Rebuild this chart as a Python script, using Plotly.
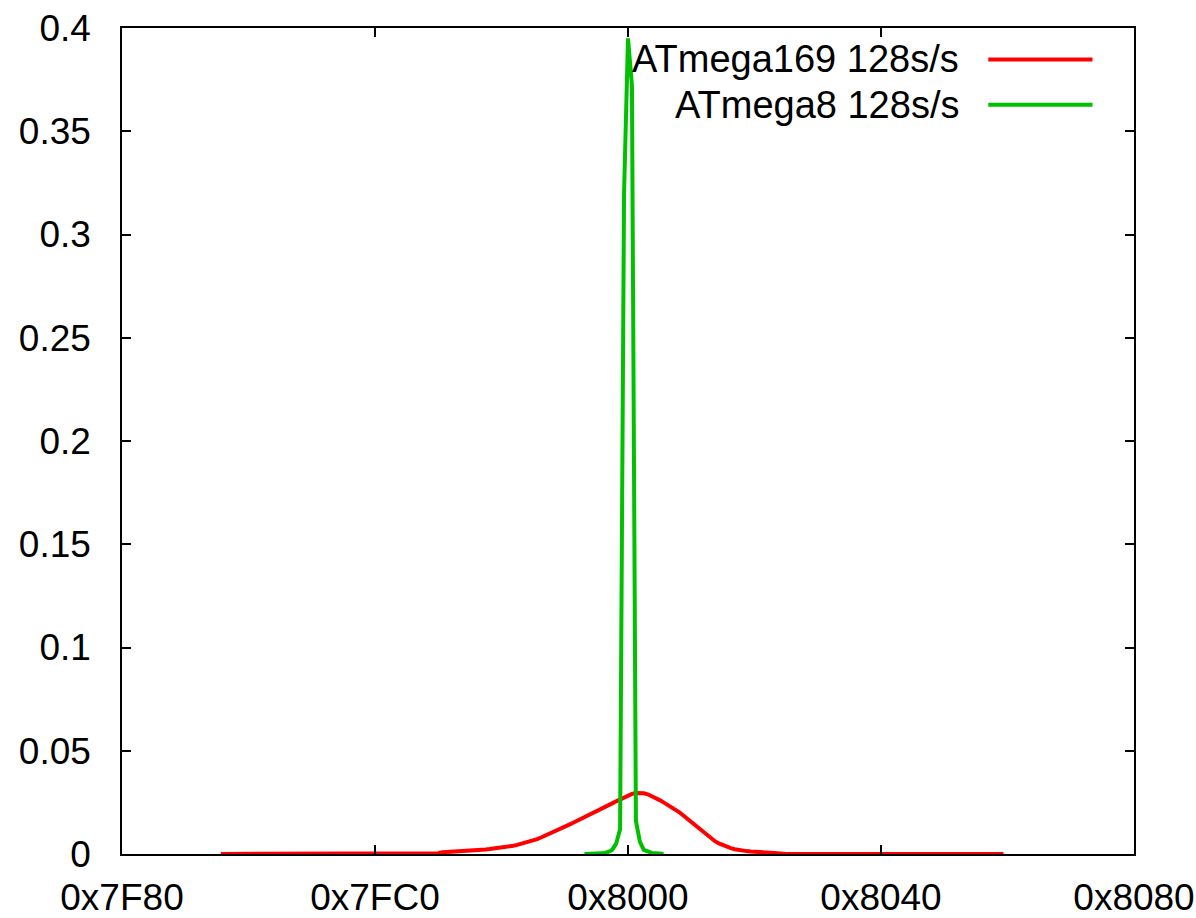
import plotly.graph_objects as go

# ADC sample histograms (probability per code) for two AVR parts
red_name = "ATmega169 128s/s"
red_x = [32665, 32718,
         32719, 32720, 32721, 32722, 32723, 32724, 32725, 32726, 32727, 32728,
         32729, 32730, 32731, 32732, 32733, 32734, 32735, 32736, 32737, 32738,
         32739, 32740, 32741, 32742, 32743, 32744, 32745, 32746, 32747, 32748,
         32749, 32750, 32751, 32752, 32753, 32754, 32755, 32756, 32757, 32758,
         32759, 32760, 32761, 32762, 32763, 32764, 32765, 32766, 32767, 32768,
         32769, 32770, 32771, 32772, 32773, 32774, 32775, 32776, 32777, 32778,
         32779, 32780, 32781, 32782, 32783, 32784, 32785, 32786, 32787, 32788,
         32789, 32790, 32791, 32792, 32793, 32794, 32795, 32796, 32797, 32798,
         32799, 32800, 32801, 32802, 32803, 32804, 32805, 32806, 32807, 32808,
         32863]
red_y = [0.0, 0.0,
         0.0, 0.0004, 0.0008, 0.0009, 0.0010, 0.0010, 0.0011, 0.0012, 0.0013, 0.0015,
         0.0016, 0.0018, 0.0020, 0.0022, 0.0024, 0.0026, 0.0028, 0.0031, 0.0034, 0.0037,
         0.0040, 0.0044, 0.0049, 0.0054, 0.0060, 0.0066, 0.0072, 0.0080, 0.0088, 0.0096,
         0.0105, 0.0114, 0.0123, 0.0132, 0.0141, 0.0150, 0.0159, 0.0168, 0.0177, 0.0186,
         0.0196, 0.0206, 0.0216, 0.0225, 0.0235, 0.0245, 0.0255, 0.0265, 0.0276, 0.0285,
         0.0291, 0.0295, 0.0296, 0.0294, 0.0289, 0.0281, 0.0271, 0.0261, 0.0250, 0.0239,
         0.0228, 0.0217, 0.0202, 0.0186, 0.0170, 0.0153, 0.0136, 0.0120, 0.0104, 0.0089,
         0.0075, 0.0062, 0.0051, 0.0042, 0.0034, 0.0028, 0.0023, 0.0019, 0.0016, 0.0014,
         0.0012, 0.0010, 0.0009, 0.0008, 0.0007, 0.0006, 0.0005, 0.0004, 0.0002, 0.0,
         0.0]

green_name = "ATmega8 128s/s"
green_x = [32757, 32758, 32760, 32762, 32763, 32764, 32765, 32766, 32767, 32768,
           32769, 32770, 32771, 32772, 32773, 32774, 32776, 32777]
green_y = [0.0, 0.0002, 0.0003, 0.0005, 0.001, 0.002, 0.005, 0.012, 0.32, 0.395,
           0.372, 0.016, 0.006, 0.002, 0.001, 0.0005, 0.0002, 0.0]

x_tickvals = [32640, 32704, 32768, 32832, 32896]
x_ticktext = ["0x7F80", "0x7FC0", "0x8000", "0x8040", "0x8080"]
y_tickvals = [0, 0.05, 0.1, 0.15, 0.2, 0.25, 0.3, 0.35, 0.4]
y_ticktext = ["0", "0.05", "0.1", "0.15", "0.2", "0.25", "0.3", "0.35", "0.4"]

RED = "#ff0000"
GREEN = "#00c000"
FAMILY = "Liberation Sans, Arial, sans-serif"
TICK_FONT = dict(family=FAMILY, size=37, color="black")
KEY_FONT = dict(family=FAMILY, size=38, color="black")

fig = go.Figure()
fig.add_trace(go.Scatter(x=red_x, y=red_y, mode="lines", name=red_name,
                         line=dict(color=RED, width=4), showlegend=False))
fig.add_trace(go.Scatter(x=green_x, y=green_y, mode="lines", name=green_name,
                         line=dict(color=GREEN, width=4), showlegend=False))

axis_common = dict(showline=True, linecolor="black", linewidth=1.5, mirror="ticks",
                   ticks="inside", ticklen=9, tickwidth=1.5, tickcolor="black",
                   showgrid=False, zeroline=False, tickfont=TICK_FONT, automargin=False)

fig.update_xaxes(range=[32640, 32896], tickvals=x_tickvals, ticktext=x_ticktext,
                 ticklabelstandoff=10, **axis_common)
fig.update_yaxes(range=[0, 0.4], tickvals=y_tickvals, ticktext=y_ticktext,
                 ticklabelstandoff=22, **axis_common)

# Key: right-justified labels with line samples to their right
key_rows = [(red_name, RED, 0.962), (green_name, GREEN, 0.907)]
for label, color, yy in key_rows:
    fig.add_annotation(x=0.829, y=yy, xref="paper", yref="paper", text=label,
                       showarrow=False, xanchor="right", yanchor="middle", font=KEY_FONT)
    fig.add_shape(type="line", xref="paper", yref="paper", x0=0.856, x1=0.959,
                  y0=yy, y1=yy, line=dict(color=color, width=4))

fig.update_layout(width=1196, height=918, plot_bgcolor="white", paper_bgcolor="white",
                  margin=dict(l=122, r=62, t=28, b=64, autoexpand=False), font=TICK_FONT)

fig.write_html("out.html")
